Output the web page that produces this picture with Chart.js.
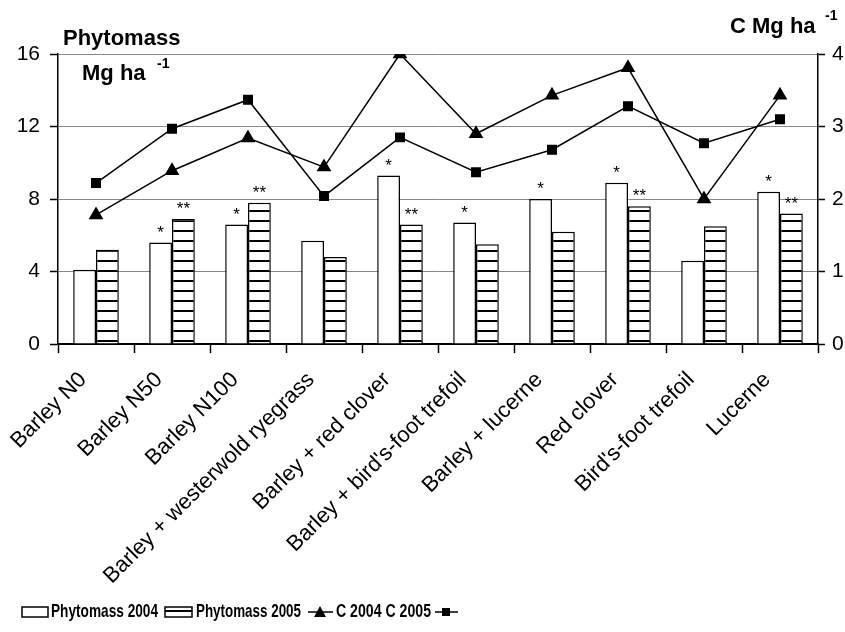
<!DOCTYPE html>
<html>
<head>
<meta charset="utf-8">
<script src="https://cdn.jsdelivr.net/npm/chart.js@4"></script>
<style>
  body { margin: 0; background: #fff; }
  #wrap { width: 845px; height: 632px; }
</style>
</head>
<body>
<div id="wrap"><canvas id="myChart" width="845" height="632"></canvas></div>
<script>
const categories = ['Barley N0', 'Barley N50', 'Barley N100', 'Barley + westerwold ryegrass',
    'Barley + red clover', "Barley + bird's-foot trefoil", 'Barley + lucerne',
    'Red clover', "Bird's-foot trefoil", 'Lucerne'];
const phyto2004 = [4.1, 5.6, 6.6, 5.7, 9.3, 6.7, 8.0, 8.9, 4.6, 8.4];
const phyto2005 = [5.2, 6.9, 7.8, 4.8, 6.6, 5.5, 6.2, 7.6, 6.5, 7.2];
const c2004 = [1.78, 2.39, 2.84, 2.44, 4.0, 2.9, 3.43, 3.81, 2.0, 3.43];
const c2005 = [2.22, 2.97, 3.37, 2.04, 2.85, 2.37, 2.68, 3.28, 2.77, 3.1];
const marks2004 = ['', '*', '*', '', '*', '*', '*', '*', '', '*'];
const marks2005 = ['', '**', '**', '', '**', '', '', '**', '', '**'];
const leftTicks = [0, 4, 8, 12, 16];
const rightTicks = [0, 1, 2, 3, 4];

const FONT = 'Liberation Sans, Arial, sans-serif';

// horizontal hatching for 2005 bars
function makeHatch() {
    const c = document.createElement('canvas');
    c.width = 8;
    c.height = 10;
    const g = c.getContext('2d');
    g.fillStyle = '#fff';
    g.fillRect(0, 0, 8, 10);
    g.fillStyle = '#000';
    g.fillRect(0, 0, 8, 2);
    return g.createPattern(c, 'repeat');
}

const ctx = document.getElementById('myChart').getContext('2d');
const hatch = makeHatch();

const extras = {
    id: 'extras',
    afterDatasetsDraw(chart) {
        const g = chart.ctx;
        g.save();
        g.fillStyle = '#000';
        g.font = '17px ' + FONT;
        g.textAlign = 'center';
        g.textBaseline = 'bottom';
        [[0, marks2004], [1, marks2005]].forEach(([di, marks]) => {
            const meta = chart.getDatasetMeta(di);
            meta.data.forEach((bar, i) => {
                if (marks[i]) g.fillText(marks[i], bar.x, bar.y - 1);
            });
        });
        g.restore();
    },
    afterDraw(chart) {
        const g = chart.ctx;
        g.save();
        g.fillStyle = '#000';
        g.textBaseline = 'alphabetic';
        g.textAlign = 'left';
        // axis titles
        g.font = 'bold 22px ' + FONT;
        g.fillText('Phytomass', 63, 45, 118);
        g.fillText('Mg ha', 82, 80, 65);
        g.fillText('C Mg ha', 730, 33, 87);
        g.font = 'bold 14px ' + FONT;
        g.fillText('-1', 157, 68);
        g.fillText('-1', 825, 20);

        // legend
        const y = 612;
        g.font = 'bold 19px ' + FONT;
        g.textBaseline = 'middle';
        g.lineWidth = 1.5;
        g.strokeStyle = '#000';
        g.fillStyle = '#fff';
        g.fillRect(22, y - 5, 26, 10);
        g.strokeRect(22, y - 5, 26, 10);
        g.fillStyle = '#000';
        g.fillText('Phytomass 2004', 51, y, 107);
        g.fillStyle = hatch;
        g.fillRect(165, y - 5, 27, 10);
        g.strokeRect(165, y - 5, 27, 10);
        g.fillStyle = '#000';
        g.fillText('Phytomass 2005', 196, y, 105);
        g.beginPath(); g.moveTo(308, y); g.lineTo(333, y); g.stroke();
        g.beginPath(); g.moveTo(320, y - 6); g.lineTo(326, y + 5); g.lineTo(314, y + 5); g.closePath(); g.fill();
        g.fillText('C 2004 C 2005', 336, y, 95);
        g.beginPath(); g.moveTo(435, y); g.lineTo(458, y); g.stroke();
        g.fillRect(442, y - 4, 8, 8);
        g.restore();
    }
};

const chart = new Chart(ctx, {
    type: 'bar',
    data: {
        labels: categories,
        datasets: [
            {
                label: 'Phytomass 2004', data: phyto2004, yAxisID: 'y',
                backgroundColor: '#fff', borderColor: '#000', borderWidth: 1.5,
                categoryPercentage: 0.6, barPercentage: 1.0, order: 2
            },
            {
                label: 'Phytomass 2005', data: phyto2005, yAxisID: 'y',
                backgroundColor: hatch, borderColor: '#000', borderWidth: 1.5,
                categoryPercentage: 0.6, barPercentage: 1.0, order: 2
            },
            {
                type: 'line', label: 'C 2004', data: c2004, yAxisID: 'y1',
                borderColor: '#000', borderWidth: 1.5, pointStyle: 'triangle',
                pointRadius: 7, pointBackgroundColor: '#000', pointBorderColor: '#000',
                tension: 0, order: 1
            },
            {
                type: 'line', label: 'C 2005', data: c2005, yAxisID: 'y1',
                borderColor: '#000', borderWidth: 1.5, pointStyle: 'rect',
                pointRadius: 6, pointBackgroundColor: '#000', pointBorderColor: '#000',
                tension: 0, order: 1
            }
        ]
    },
    options: {
        responsive: false,
        animation: false,
        layout: { padding: { top: 54, left: 0, right: 0, bottom: 0 } },
        plugins: { legend: { display: false }, tooltip: { enabled: false } },
        scales: {
            x: {
                offset: true,
                grid: { offset: true, drawOnChartArea: false, tickLength: 9, tickColor: '#000', tickWidth: 1.5 },
                border: { color: '#000', width: 2 },
                ticks: { color: '#000', font: { family: FONT, size: 22 }, minRotation: 45, maxRotation: 45,
                         padding: 14, labelOffset: -13 },
                afterFit(s) { s.height = 288; }
            },
            y: {
                position: 'left', min: 0, max: 16,
                afterBuildTicks(s) { s.ticks = leftTicks.map(v => ({ value: v })); },
                grid: { color: '#888', borderDash: [2, 2], tickLength: 8, tickColor: '#000', tickWidth: 1.5 },
                border: { color: '#000', width: 1.5 },
                ticks: { color: '#000', font: { family: FONT, size: 21 }, padding: 10 },
                afterFit(s) { s.width = 58; }
            },
            y1: {
                position: 'right', min: 0, max: 4,
                afterBuildTicks(s) { s.ticks = rightTicks.map(v => ({ value: v })); },
                grid: { drawOnChartArea: false, tickLength: 7, tickColor: '#000', tickWidth: 1.5 },
                border: { color: '#000', width: 1.5 },
                ticks: { color: '#000', font: { family: FONT, size: 21 }, padding: 7 },
                afterFit(s) { s.width = 27; }
            }
        }
    },
    plugins: [extras]
});
</script>
</body>
</html>
